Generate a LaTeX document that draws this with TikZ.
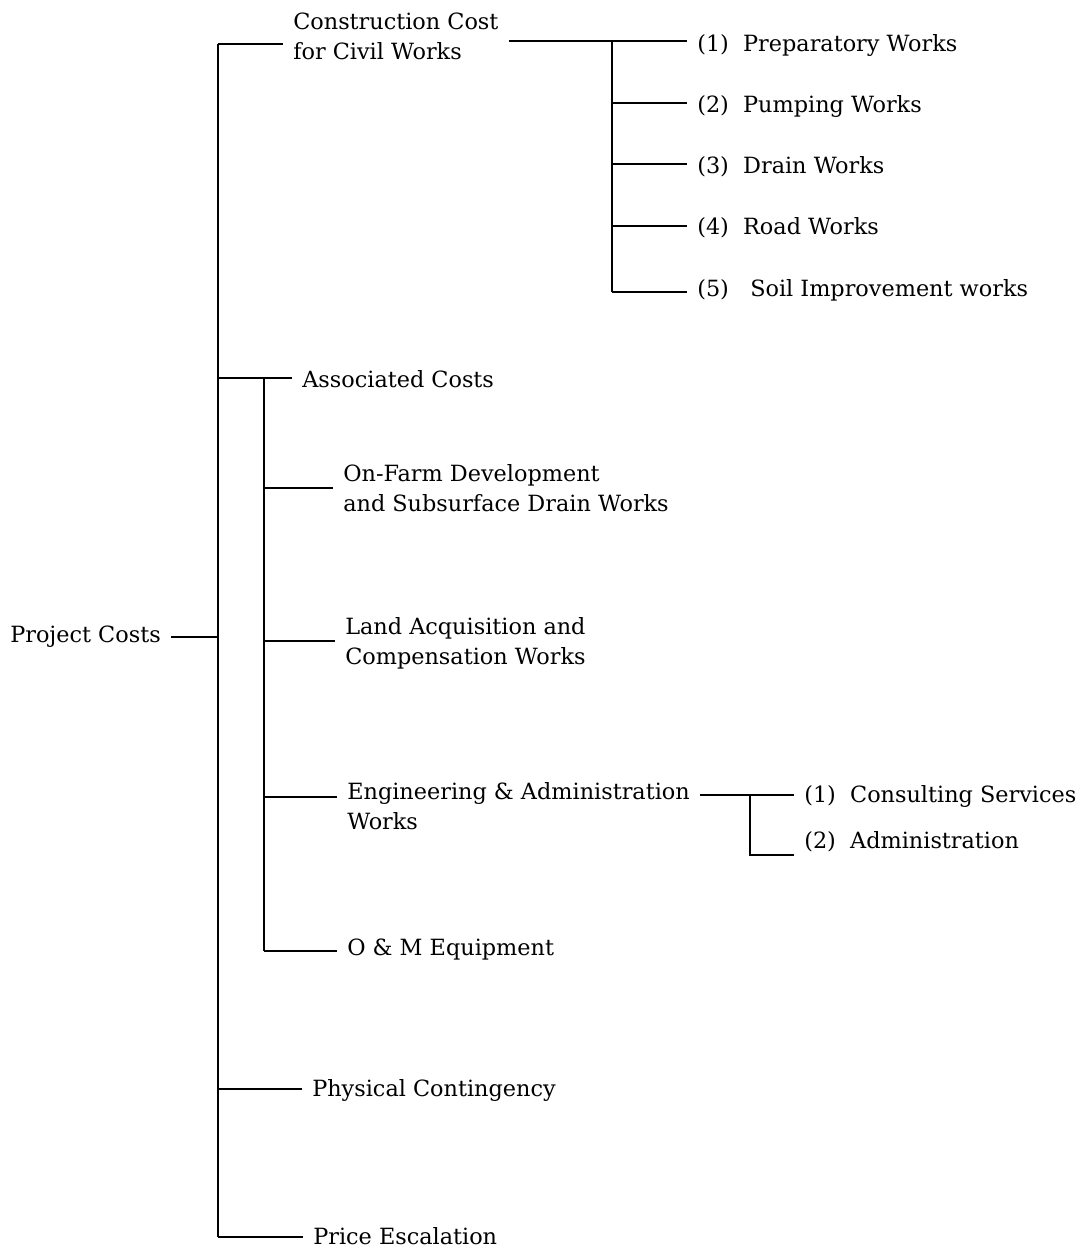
\documentclass[tikz,border=0pt]{standalone}
\usepackage{fontspec}
\setmainfont{DejaVu Serif}
\usetikzlibrary{calc}

\begin{document}
\begin{tikzpicture}[x=0.025cm,y=-0.025cm]
	\tikzset{every node/.style={anchor=west, inner xsep=0.25cm, inner ysep=0pt, align=left, font=\fontsize{15.9}{21.3}\selectfont}}
	\tikzset{branch/.style={line width=1.2pt}}
	\useasboundingbox (0,0) rectangle (1083,1249);

	\node (pc)	at (0,637)	{Project Costs};
	\node (ccw)	at (283,36)	{Construction Cost\\for Civil Works};
	\node (prep)	at (687,45)	{(1)\ \ Preparatory Works};
	\node (pump)	at (687,106)	{(2)\ \ Pumping Works};
	\node (drain)	at (687,167)	{(3)\ \ Drain Works};
	\node (road)	at (687,228)	{(4)\ \ Road Works};
	\node (soil)	at (687,290)	{(5)\ \ \ Soil Improvement works};
	\node (asc)	at (292,379)	{Associated Costs};
	\node (ofd)	at (333,488)	{On-Farm Development\\and Subsurface Drain Works};
	\node (land)	at (335,643)	{Land Acquisition and\\Compensation Works};
	\node (eng)	at (337,806)	{Engineering \& Administration\\Works};
	\node (cons)	at (794,796)	{(1)\ \ Consulting Services};
	\node (adm)	at (794,842)	{(2)\ \ Administration};
	\node (om)	at (337,950)	{O \& M Equipment};
	\node (phys)	at (302,1090)	{Physical Contingency};
	\node (price)	at (303,1236)	{Price Escalation};

	\coordinate (m1) at (218,44);
	\coordinate (ma) at (218,378);
	\coordinate (mp) at (218,1089);
	\coordinate (m2) at (218,1237);
	\coordinate (a0) at (264,378);
	\coordinate (a1) at (264,488);
	\coordinate (a2) at (264,641);
	\coordinate (a3) at (264,797);
	\coordinate (a4) at (264,951);
	\coordinate (c0) at (612,41);
	\coordinate (c1) at (612,103);
	\coordinate (c2) at (612,164);
	\coordinate (c3) at (612,226);
	\coordinate (c4) at (612,292);
	\coordinate (e0) at (750,795);
	\coordinate (e1) at (750,855);

	\draw[branch] (m1) -- (m2);
	\draw[branch] (pc.east) -- (pc.east -| m1);
	\draw[branch] (m1) -- (m1 -| ccw.west);
	\draw[branch] (ma) -- (ma -| asc.west);
	\draw[branch] (mp) -- (mp -| phys.west);
	\draw[branch] (m2) -- (m2 -| price.west);

	\draw[branch] (c0 -| ccw.east) -- (c0 -| prep.west);
	\draw[branch] (c0) -- (c4);
	\draw[branch] (c1) -- (c1 -| pump.west);
	\draw[branch] (c2) -- (c2 -| drain.west);
	\draw[branch] (c3) -- (c3 -| road.west);
	\draw[branch] (c4) -- (c4 -| soil.west);

	\draw[branch] (a0) -- (a4);
	\draw[branch] (a1) -- (a1 -| ofd.west);
	\draw[branch] (a2) -- (a2 -| land.west);
	\draw[branch] (a3) -- (a3 -| eng.west);
	\draw[branch] (a4) -- (a4 -| om.west);

	\draw[branch] (e0 -| eng.east) -- (e0 -| cons.west);
	\draw[branch] (e0) -- (e1) -- (e1 -| adm.west);
\end{tikzpicture}
\end{document}
